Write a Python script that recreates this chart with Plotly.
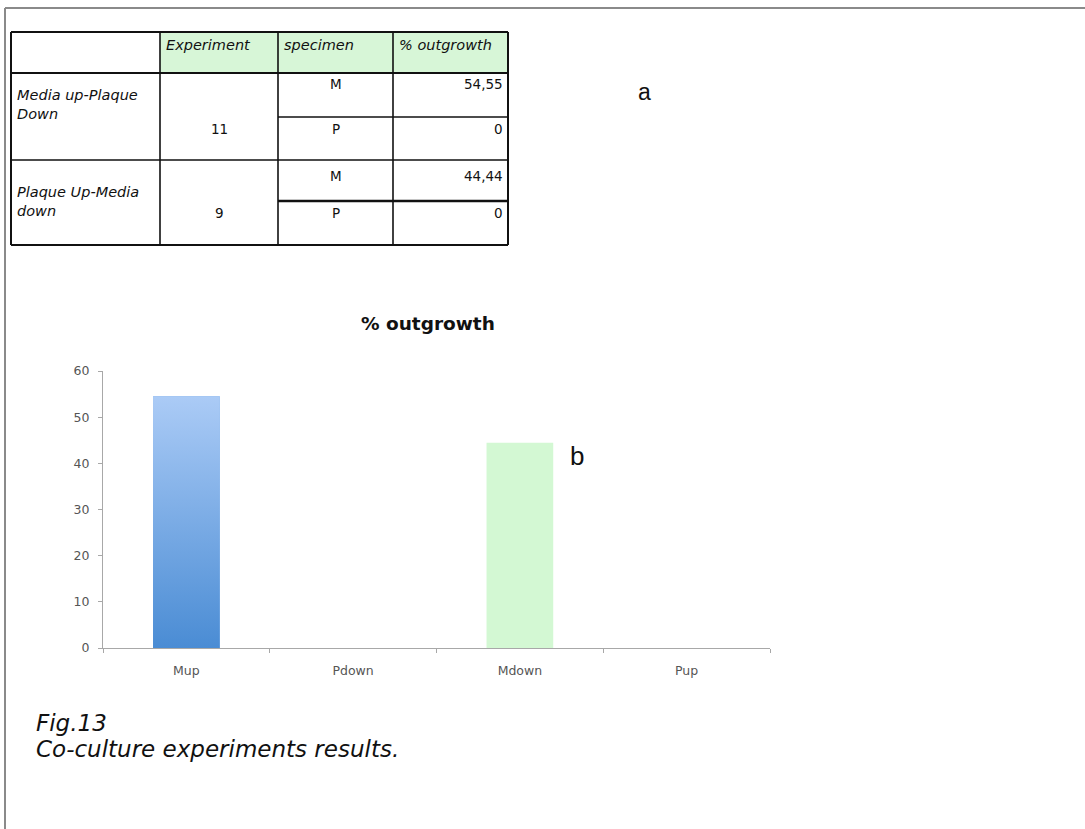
import plotly.graph_objects as go

# ---- chart data ----
categories = ["Mup", "Pdown", "Mdown", "Pup"]
outgrowth = [54.55, 0, 44.44, 0]
bar_colors = ["#6fa6e6", "#6fa6e6", "#d3f8d3", "#d3f8d3"]
y_ticks = [0, 10, 20, 30, 40, 50, 60]

# ---- table data ----
table_header = ["Experiment", "specimen", "% outgrowth"]
groups = ["Media up-Plaque<br>Down", "Plaque Up-Media<br>down"]
experiments = ["11", "9"]
specimens = ["M", "P", "M", "P"]
table_values = ["54,55", "0", "44,44", "0"]

W, H = 1085, 829


def px(x):
    return x / W


def py(y):
    return 1 - y / H


BAR_W = 0.4

fig = go.Figure()

fig.add_trace(go.Bar(
    x=categories, y=outgrowth, width=BAR_W,
    marker=dict(color=bar_colors, line=dict(width=0)),
    hoverinfo="x+y", showlegend=False,
))

# vertical gradient over the blue bar (Mup), drawn on a numeric twin x-axis
i_mup = categories.index("Mup")
v = outgrowth[i_mup]
fig.add_trace(go.Scatter(
    x=[i_mup - BAR_W / 2, i_mup + BAR_W / 2, i_mup + BAR_W / 2, i_mup - BAR_W / 2, i_mup - BAR_W / 2],
    y=[0, 0, v, v, 0],
    xaxis="x2", yaxis="y",
    mode="lines", line=dict(width=0), fill="toself",
    fillgradient=dict(type="vertical", colorscale=[[0, "#4a8cd4"], [1, "#abcbf6"]]),
    hoverinfo="skip", showlegend=False,
))

axis_font = dict(family="DejaVu Sans, sans-serif", size=12.5, color="#555555")
x_domain = [px(103), px(770)]

fig.update_layout(
    width=W, height=H, autosize=False,
    margin=dict(l=0, r=0, t=0, b=0, pad=0, autoexpand=False),
    paper_bgcolor="white", plot_bgcolor="white",
    font=dict(family="DejaVu Sans, sans-serif", color="#111111"),
    xaxis=dict(
        domain=x_domain,
        type="category", categoryorder="array", categoryarray=categories,
        range=[-0.5, 3.5],
        showline=True, linecolor="#a8a8a8", linewidth=1,
        ticks="outside", tickson="boundaries", ticklen=4, tickcolor="#a8a8a8",
        ticklabelstandoff=11,
        showgrid=False, zeroline=False, tickfont=axis_font, fixedrange=True,
        automargin=False,
    ),
    xaxis2=dict(
        domain=x_domain, overlaying="x", type="linear", range=[-0.5, 3.5],
        visible=False, fixedrange=True,
    ),
    yaxis=dict(
        domain=[py(648), py(371)],
        range=[0, 60], tickvals=y_ticks,
        showline=True, linecolor="#a8a8a8", linewidth=1,
        ticks="outside", ticklen=4, tickcolor="#a8a8a8",
        ticklabelstandoff=6,
        showgrid=False, zeroline=False, tickfont=axis_font, fixedrange=True,
        automargin=False,
    ),
)

shapes = []
# page frame (top and left edges)
shapes.append(dict(type="line", xref="paper", yref="paper", x0=px(5), x1=1, y0=py(8), y1=py(8),
                   line=dict(color="#8a8a8a", width=2)))
shapes.append(dict(type="line", xref="paper", yref="paper", x0=px(5), x1=px(5), y0=py(8), y1=0,
                   line=dict(color="#8a8a8a", width=2)))

# table geometry
col_x = [11, 160, 278, 393, 508]
row_y = [32, 73, 117, 160, 201, 245]

# header background
shapes.append(dict(type="rect", xref="paper", yref="paper",
                   x0=px(col_x[1]), x1=px(col_x[4]), y0=py(row_y[0]), y1=py(row_y[1]),
                   fillcolor="#d7f6d7", line=dict(width=0), layer="below"))


def hline(x0, x1, y, w=1.6):
    shapes.append(dict(type="line", xref="paper", yref="paper", x0=px(x0), x1=px(x1),
                       y0=py(y), y1=py(y), line=dict(color="#111111", width=w)))


def vline(x, y0, y1, w=1.6):
    shapes.append(dict(type="line", xref="paper", yref="paper", x0=px(x), x1=px(x),
                       y0=py(y0), y1=py(y1), line=dict(color="#111111", width=w)))


# outer frame + full-width rules
hline(col_x[0], col_x[4], row_y[0], 2)
hline(col_x[0], col_x[4], row_y[1], 2)
hline(col_x[0], col_x[4], row_y[3], 1.6)
hline(col_x[0], col_x[4], row_y[5], 2)
# M/P separators in specimen and value columns
hline(col_x[2], col_x[4], row_y[2], 1.6)
hline(col_x[2], col_x[4], row_y[4], 2.4)
for i, x in enumerate(col_x):
    vline(x, row_y[0], row_y[5], 2 if i in (0, 4) else 1.6)

annotations = []
ifont = dict(family="DejaVu Sans, sans-serif", size=14.5, color="#111111")
nfont = dict(family="DejaVu Sans, sans-serif", size=13.5, color="#111111")


def txt(x, y, s, xanchor="left", font=ifont, yanchor="middle"):
    annotations.append(dict(x=px(x), y=py(y), xref="paper", yref="paper", text=s,
                            showarrow=False, xanchor=xanchor, yanchor=yanchor, font=font,
                            align="left"))


# header row
for j, h in enumerate(table_header):
    txt(col_x[j + 1] + 4, 45, "<i>" + h + "</i>")

# group labels
group_y = [104, 202]
for g, yy in zip(groups, group_y):
    txt(15, yy, "<i>" + g + "</i>")

exp_y = [129, 213]
for e, yy in zip(experiments, exp_y):
    txt((col_x[1] + col_x[2]) / 2, yy, e, xanchor="center", font=nfont)

sub_y = [84, 129, 176, 213]
for s, val, yy in zip(specimens, table_values, sub_y):
    txt((col_x[2] + col_x[3]) / 2, yy, s, xanchor="center", font=nfont)
    txt(col_x[4] - 3, yy, val, xanchor="right", font=nfont)

# panel labels
txt(636, 92, "a", font=dict(family="Liberation Sans, Arial, sans-serif", size=23, color="#111111"))
txt(568, 456, "b", font=dict(family="Liberation Sans, Arial, sans-serif", size=26, color="#111111"))

# chart title
txt(428, 323, "<b>% outgrowth</b>", xanchor="center",
    font=dict(family="DejaVu Sans, sans-serif", size=18.5, color="#111111"))

# caption
cap_font = dict(family="DejaVu Sans, sans-serif", size=23, color="#111111")
txt(34, 723, "<i>Fig.13</i>", font=cap_font)
txt(34, 749, "<i>Co-culture experiments results.</i>", font=cap_font)

fig.update_layout(shapes=shapes, annotations=annotations)

fig.write_html("out.html")
